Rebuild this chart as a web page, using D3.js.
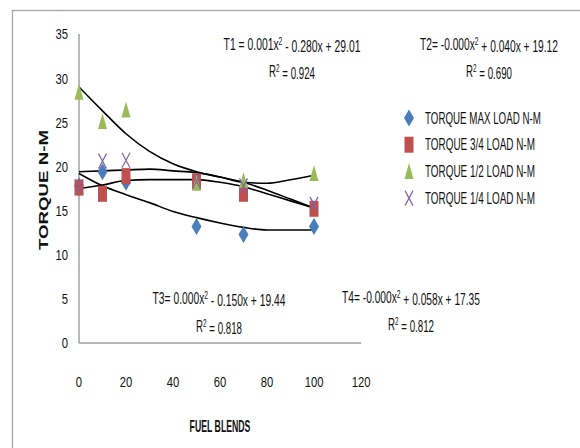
<!DOCTYPE html>
<html>
<head>
<meta charset="utf-8">
<script src="https://cdn.jsdelivr.net/npm/d3@7"></script>
<style>
  body { margin: 0; background: #fff; }
  text { font-family: "Liberation Sans", Arial, sans-serif; fill: #111; }
</style>
</head>
<body>
<div id="chart"></div>
<script>
// fuel blend (x) values and torque readings per load
var blends = [0, 10, 20, 50, 70, 100];
var torqueMax = [17.8, 19.4, 18.2, 13.2, 12.3, 13.2];
var torque34 = [17.6, 16.9, 18.9, 18.3, 16.9, 15.2];
var torque12 = [28.4, 25.1, 26.4, 18.1, 18.4, 19.2];
var torque14 = [17.7, 20.6, 20.7, 18.3, 17.8, 15.7];

var seriesNames = ["TORQUE MAX LOAD N-M", "TORQUE 3/4 LOAD N-M", "TORQUE 1/2 LOAD N-M", "TORQUE 1/4 LOAD N-M"];
var seriesColors = ["#4a7ebb", "#c0504d", "#9bbb59", "#8064a2"];
var seriesShapes = ["diamond", "square", "triangle", "cross"];

// trend curves as drawn in the picture, read at these x positions
var trendX = [0, 10, 20, 30, 40, 50, 60, 70, 80, 90, 100];
var trendT1 = [29.0, 26.3, 23.7, 21.7, 20.3, 19.4, 18.8, 18.2, 17.3, 16.3, 15.3];
var trendT2 = [19.4, 19.5, 19.6, 19.7, 19.5, 19.3, 18.8, 18.2, 18.1, 18.5, 19.0];
var trendT3 = [19.2, 17.8, 16.8, 15.9, 14.9, 14.2, 13.6, 13.1, 12.8, 12.8, 12.8];
var trendT4 = [17.5, 17.9, 18.4, 18.5, 18.5, 18.5, 18.2, 17.7, 16.9, 16.1, 15.3];

var yTicks = [0, 5, 10, 15, 20, 25, 30, 35];
var xTicks = [0, 20, 40, 60, 80, 100, 120];

// trendline labels: [equation start, equation rest, r2]
var trendLabels = [
  ["T1 = 0.001x", " - 0.280x + 29.01", "0.924"],
  ["T2= -0.000x", " + 0.040x + 19.12", "0.690"],
  ["T3= 0.000x", " - 0.150x + 19.44", "0.818"],
  ["T4= -0.000x", " + 0.058x + 17.35", "0.812"]
];

var W = 580, H = 448;
var margin = {top: 34, left: 79};
var plotW = 282, plotH = 309;

var svg = d3.select("#chart").append("svg")
  .attr("width", W).attr("height", H);

// chart border
svg.append("rect")
  .attr("x", 12.5).attr("y", 10.5)
  .attr("width", 600).attr("height", 500)
  .attr("fill", "none").attr("stroke", "#a6a6a6").attr("stroke-width", 1.3);

var x = d3.scaleLinear().domain([0, 120]).range([margin.left, margin.left + plotW]);
var y = d3.scaleLinear().domain([0, 35]).range([margin.top + plotH, margin.top]);

// narrow text: draw at origin then squeeze horizontally (to width w, or by factor s)
function narrowText(px, py, size, anchor, opts) {
  var g = svg.append("g");
  var t = g.append("text")
    .attr("text-anchor", anchor)
    .attr("dy", "0.36em")
    .style("font-size", size + "px");
  if (opts.bold) t.style("font-weight", "bold");
  if (opts.sup) {
    t.append("tspan").text(opts.sup[0]);
    t.append("tspan").attr("dy", "-0.45em").style("font-size", (size * 0.65) + "px").text("2");
    t.append("tspan").attr("dy", "0.45em").text(opts.sup[1]);
  } else {
    t.text(opts.text);
  }
  var s = opts.scale;
  if (opts.width) s = opts.width / t.node().getBBox().width;
  g.attr("transform", "translate(" + px + "," + py + ") scale(" + s + ",1)");
  return g;
}

// axes lines
svg.append("line")
  .attr("x1", x(0)).attr("x2", x(0)).attr("y1", y(35)).attr("y2", y(0))
  .attr("stroke", "#a0a0a0").attr("stroke-width", 1.5);
svg.append("line")
  .attr("x1", x(0)).attr("x2", x(120)).attr("y1", y(0)).attr("y2", y(0))
  .attr("stroke", "#a0a0a0").attr("stroke-width", 1.5);

yTicks.forEach(function(d) {
  narrowText(68, y(d), 15, "end", {text: d, scale: 0.75});
});
xTicks.forEach(function(d) {
  narrowText(x(d), 382, 15, "middle", {text: d, scale: 0.75});
});

// axis titles
svg.append("text")
  .attr("transform", "translate(48,190) rotate(-90)")
  .attr("text-anchor", "middle")
  .style("font-weight", "bold")
  .style("font-size", "13px")
  .attr("textLength", 120).attr("lengthAdjust", "spacingAndGlyphs")
  .text("TORQUE N-M");

narrowText(220, 426, 16, "middle", {text: "FUEL BLENDS", bold: true, width: 61});

// trend curves
var line = d3.line()
  .x((d, i) => x(trendX[i]))
  .y(d => y(d))
  .curve(d3.curveMonotoneX);
[trendT1, trendT2, trendT3, trendT4].forEach(function(vals) {
  svg.append("path")
    .datum(vals)
    .attr("d", line)
    .attr("fill", "none")
    .attr("stroke", "#000")
    .attr("stroke-width", 1.6);
});

// markers
function drawMarker(g, shape, color, cx, cy) {
  if (shape == "diamond") {
    g.append("path").attr("d", "M" + cx + "," + (cy - 8.5) + " L" + (cx + 5) + "," + cy + " L" + cx + "," + (cy + 8.5) + " L" + (cx - 5) + "," + cy + "Z")
      .attr("fill", color);
  } else if (shape == "square") {
    g.append("rect").attr("x", cx - 4.5).attr("y", cy - 8).attr("width", 9).attr("height", 16)
      .attr("fill", color);
  } else if (shape == "triangle") {
    g.append("path").attr("d", "M" + cx + "," + (cy - 8.5) + " L" + (cx + 4.5) + "," + (cy + 7.5) + " L" + (cx - 4.5) + "," + (cy + 7.5) + "Z")
      .attr("fill", color);
  } else {
    g.append("path").attr("d", "M" + (cx - 4) + "," + (cy - 7.5) + " L" + (cx + 4) + "," + (cy + 7.5) + " M" + (cx + 4) + "," + (cy - 7.5) + " L" + (cx - 4) + "," + (cy + 7.5))
      .attr("stroke", color).attr("stroke-width", 1.2).attr("fill", "none");
  }
}

var allSeries = [torqueMax, torque34, torque12, torque14];
allSeries.forEach(function(vals, si) {
  var g = svg.append("g");
  vals.forEach(function(v, i) {
    drawMarker(g, seriesShapes[si], seriesColors[si], x(blends[i]), y(v));
  });
});

// legend
var legendW = [116, 110, 110, 110];
var legend = svg.append("g");
seriesNames.forEach(function(name, i) {
  var ly = 118 + i * 26.7;
  drawMarker(legend, seriesShapes[i], seriesColors[i], 409, ly);
  narrowText(425, ly, 16, "start", {text: name, width: legendW[i]});
});

// trend equations: [x center, eq y, r2 y, eq width]
var eqPos = [[292, 44, 71, 137], [489, 44, 71, 138], [219, 298, 326, 133], [411, 297, 324, 138]];
trendLabels.forEach(function(lab, i) {
  var p = eqPos[i];
  narrowText(p[0], p[1], 16, "middle", {sup: [lab[0], lab[1]], width: p[3]});
  narrowText(p[0], p[2], 16, "middle", {sup: ["R", " = " + lab[2]], width: 46});
});
</script>
</body>
</html>
